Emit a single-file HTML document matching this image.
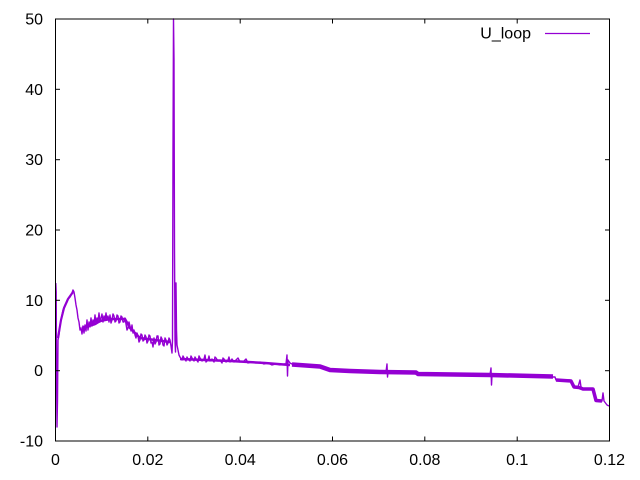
<!DOCTYPE html>
<html><head><meta charset="utf-8"><style>
html,body{margin:0;padding:0;background:#fff;}
svg{display:block;}
text{font-family:"Liberation Sans",Arial,sans-serif;font-size:16px;fill:#000;}
</style></head><body>
<svg width="640" height="480" viewBox="0 0 640 480" xmlns="http://www.w3.org/2000/svg">
<rect width="640" height="480" fill="#fff"/>
<!-- series -->
<g fill="none" stroke="#9400d3" stroke-linejoin="round">
<polyline stroke-width="1.4" points="55.8,283 56.2,292 56.6,380 57,427 57.5,400 58,340 59,335 60,325 61,320 62,315 63,310 65,305 67,302 68,299 70,297 71,295 72,293 73,290 74,292 75,298 76,305 77,310 78,318 79,322 80,330 81,328 82,334 83,326 84,333 85,325 86,331 87,320 88,330 89,322 90,327 91,318 92,326 93,320 94,325 95,315 96,324 97,318 98,322 99,313 100,322 101,318 102,314 103,322 104,316 105,320 106,313 107,320 108,316 109,322 110,315 111,323 112,320 113,314 114,316 115,322 116,321 117,315 118,316 119,323 120,322 121,316 122,317 123,322 124,322 125,318 126,324 127,330 128,328 129,322 130,326 131,331 132,325 133,333 134,330 135,335 136,338 137,333 138,336 139,342 140,340 141,334 142,335 143,341 144,340 145,335 146,337 147,343 148,341 149,335 150,336 151,343 152,342 153,347 154,338 155,344 156,342 157,336 158,336 159,345 160,344 161,337 162,339 163,345 164,346 165,338 166,340 167,345 168,343 169,338 170,340 171,346 172,353 172.5,340 173,150 173.5,19 174,60 174.5,250 175,340 175.5,352 176,283 176.5,330 177,345 178,350 179,355 180,357 182,360 183,356 184,358 186,361 187,357 188,359 190,361 191,356 192,358 194,361 195,357 196,359 198,362 199,356 200,358 202,361 204,359 205,355 206,362 208,360 209,356 210,361 212,359 214,362 215,357 216,358 218,361 220,360 222,363 223,358 224,359 226,362 228,360 229,357 230,362 232,359 234,362 236,360 238,358 240,362 244,361 246,359 248,363 252,362 256,363 260,362 264,364 268,363 272,365 276,364 280,365 284,364 286,364 287,355 287.5,376 288,360 290,363 292,364 296,364 300,365 310,365 320,366 330,369 340,370 350,371 360,372 370,372 380,372 386,372 387,364 387.5,377 388,372 400,372 410,372 416,373 417,374 430,374 450,374 470,374 490,375 491,368 491.5,385 492,375 510,375 530,376 550,377 555,377 556,380 570,380 572,384 574,387 578,387 580,380 581,387 584,389 593,389 595,400 602,401 603,393 604,401 607,405 609,406"/>
<polyline stroke-width="2.2" points="58,338 61,320 64,308 68,299 73,292"/>
<polyline stroke-width="2.5" points="82,328 95,324 100,321 110,319 125,319 130,328 140,338 155,340 170,342"/>
<polyline stroke-width="2.5" points="180,359 230,361 265,363 290,365"/>
<polyline stroke-width="4.5" points="292,364.5 320,366.5 330,370 350,371 380,372 416,372.5 418,374 490,375 553,376.5"/>
<polyline stroke-width="3.5" points="556,380 571,381 574,387 579,387.5 583,389 593,389 596,400.5 602,401"/>
</g>
<!-- frame -->
<rect x="55.5" y="19" width="554" height="422" fill="none" stroke="#000" stroke-width="1"/>
<g stroke="#000" stroke-width="1">
<line x1="55.5" y1="441" x2="60" y2="441"/><line x1="609.5" y1="441" x2="605" y2="441"/>
<line x1="55.5" y1="370.7" x2="60" y2="370.7"/><line x1="609.5" y1="370.7" x2="605" y2="370.7"/>
<line x1="55.5" y1="300.3" x2="60" y2="300.3"/><line x1="609.5" y1="300.3" x2="605" y2="300.3"/>
<line x1="55.5" y1="230" x2="60" y2="230"/><line x1="609.5" y1="230" x2="605" y2="230"/>
<line x1="55.5" y1="159.7" x2="60" y2="159.7"/><line x1="609.5" y1="159.7" x2="605" y2="159.7"/>
<line x1="55.5" y1="89.3" x2="60" y2="89.3"/><line x1="609.5" y1="89.3" x2="605" y2="89.3"/>
<line x1="147.8" y1="441" x2="147.8" y2="436.5"/><line x1="147.8" y1="19" x2="147.8" y2="23.5"/>
<line x1="240.2" y1="441" x2="240.2" y2="436.5"/><line x1="240.2" y1="19" x2="240.2" y2="23.5"/>
<line x1="332.5" y1="441" x2="332.5" y2="436.5"/><line x1="332.5" y1="19" x2="332.5" y2="23.5"/>
<line x1="424.8" y1="441" x2="424.8" y2="436.5"/><line x1="424.8" y1="19" x2="424.8" y2="23.5"/>
<line x1="517.2" y1="441" x2="517.2" y2="436.5"/><line x1="517.2" y1="19" x2="517.2" y2="23.5"/>
</g>
<g text-anchor="end">
<text x="43" y="446.5">-10</text>
<text x="43" y="376.2">0</text>
<text x="43" y="305.8">10</text>
<text x="43" y="235.5">20</text>
<text x="43" y="165.2">30</text>
<text x="43" y="94.8">40</text>
<text x="43" y="24.5">50</text>
</g>
<g text-anchor="middle">
<text x="55.5" y="465">0</text>
<text x="147.8" y="465">0.02</text>
<text x="240.2" y="465">0.04</text>
<text x="332.5" y="465">0.06</text>
<text x="424.8" y="465">0.08</text>
<text x="517.2" y="465">0.1</text>
<text x="609.5" y="465">0.12</text>
</g>
<text x="531" y="38.5" text-anchor="end">U_loop</text>
<line x1="545" y1="33.5" x2="590" y2="33.5" stroke="#9400d3" stroke-width="1.2"/>
</svg>
</body></html>
